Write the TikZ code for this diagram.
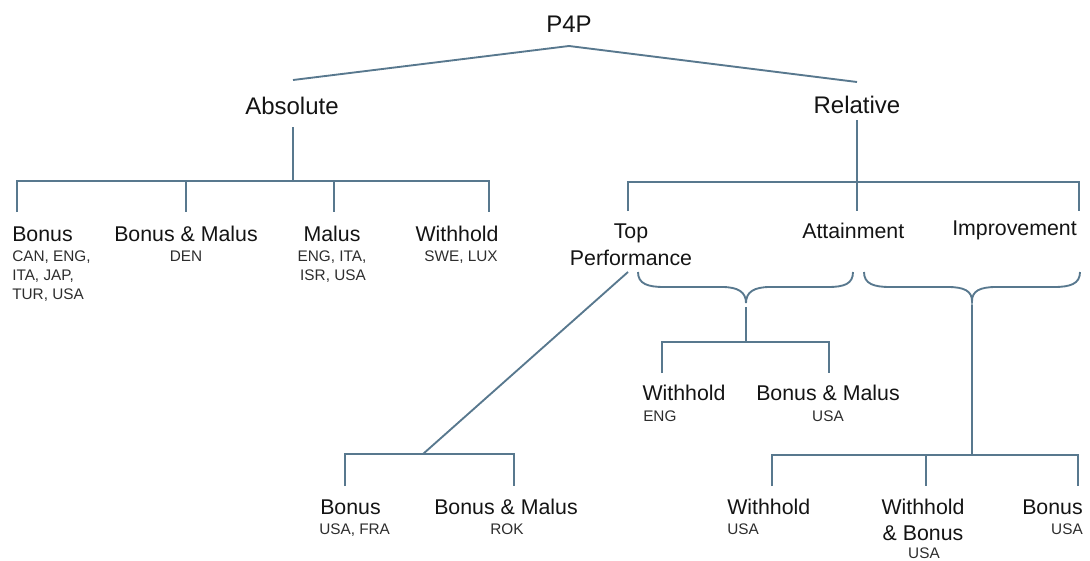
\documentclass[tikz,border=0pt]{standalone}
\usepackage{fontspec}
\setmainfont{Liberation Sans}
\definecolor{linec}{RGB}{88,120,142}
\definecolor{txtmain}{RGB}{20,20,20}
\definecolor{txtsub}{RGB}{45,45,45}
\begin{document}
\begin{tikzpicture}[x=0.75pt,y=-0.75pt,
  big/.style={font=\fontsize{18}{21}\selectfont, inner sep=0pt, text=txtmain},
  mid/.style={font=\fontsize{16}{19}\selectfont, inner sep=0pt, text=txtmain},
  sub/.style={font=\fontsize{11.5}{14}\selectfont, inner sep=0pt, text=txtsub},
  conn/.style={draw=linec, line width=1.4pt, line join=miter},
  brace/.style={draw=linec, line width=1.4pt}]
\useasboundingbox (0,0) rectangle (1090,561);

% ---------- text nodes ----------
\node[big, anchor=base] (p4p) at (569,32) {P4P};
\node[big, anchor=base] (abs) at (292,114) {Absolute};
\node[big, anchor=base] (rel) at (857,113) {Relative};

% Absolute leaves
\node[mid, anchor=base west] (aBon) at (12,241) {Bonus};
\node[sub, anchor=base west] (aBon1) at (12,261) {CAN, ENG,};
\node[sub, anchor=base west] (aBon2) at (12,280) {ITA, JAP,};
\node[sub, anchor=base west] (aBon3) at (12,299) {TUR, USA};
\node[mid, anchor=base] (aBM) at (186,241) {Bonus \& Malus};
\node[sub, anchor=base] (aBM1) at (186,261) {DEN};
\node[mid, anchor=base] (aMal) at (332,241) {Malus};
\node[sub, anchor=base] (aMal1) at (332,261) {ENG, ITA,};
\node[sub, anchor=base] (aMal2) at (333,280) {ISR, USA};
\node[mid, anchor=base] (aWit) at (457,241) {Withhold};
\node[sub, anchor=base] (aWit1) at (461,261) {SWE, LUX};

% Relative children
\node[mid, anchor=base] (top1) at (631,238) {Top};
\node[mid, anchor=base] (top2) at (631,265) {Performance};
\node[mid, anchor=base west] (att) at (802,238) {Attainment};
\node[mid, anchor=base east] (imp) at (1077,235) {Improvement};

% Under attainment brace
\node[mid, anchor=base] (bWit) at (684,400) {Withhold};
\node[sub, anchor=base west] (bWit1) at (643,421) {ENG};
\node[mid, anchor=base] (bBM) at (828,400) {Bonus \& Malus};
\node[sub, anchor=base] (bBM1) at (828,421) {USA};

% Under top performance
\node[mid, anchor=base west] (cBon) at (320,514) {Bonus};
\node[sub, anchor=base west] (cBon1) at (319,534) {USA, FRA};
\node[mid, anchor=base] (cBM) at (506,514) {Bonus \& Malus};
\node[sub, anchor=base] (cBM1) at (507,534) {ROK};

% Under improvement brace
\node[mid, anchor=base west] (dWit) at (727,514) {Withhold};
\node[sub, anchor=base west] (dWit1) at (727,534) {USA};
\node[mid, anchor=base] (dWB1) at (923,514) {Withhold};
\node[mid, anchor=base] (dWB2) at (923,540) {\& Bonus};
\node[sub, anchor=base] (dWB3) at (924,558) {USA};
\node[mid, anchor=base east] (dBon) at (1083,514) {Bonus};
\node[sub, anchor=base east] (dBon1) at (1083,534) {USA};

% ---------- connector points ----------
\coordinate (apex) at (569,46);
\coordinate (absT) at (293,80);
\coordinate (relT) at (857,82);

\coordinate (absB) at (293,127);
\coordinate (absJ) at (293,181);
\coordinate (aL) at (17,181);  \coordinate (aLb) at (17,212);
\coordinate (aB2) at (186,181); \coordinate (aB2b) at (186,212);
\coordinate (aB3) at (334,181); \coordinate (aB3b) at (334,212);
\coordinate (aR) at (489,181);  \coordinate (aRb) at (489,212);

\coordinate (relB) at (857,120);
\coordinate (relJ) at (857,182);
\coordinate (relJb) at (857,211);
\coordinate (rL) at (628,182); \coordinate (rLb) at (628,211);
\coordinate (rR) at (1079,182); \coordinate (rRb) at (1079,211);

% braces
\coordinate (br1tip) at (746,303);
\coordinate (br2tip) at (972,301);

% attainment subtree
\coordinate (s1a) at (746,307);
\coordinate (s1j) at (746,342);
\coordinate (s1L) at (662,342); \coordinate (s1Lb) at (662,373);
\coordinate (s1R) at (829,342); \coordinate (s1Rb) at (829,373);

% top performance subtree
\coordinate (tpS) at (628,272);
\coordinate (tpJ) at (423,454);
\coordinate (tpL) at (345,454); \coordinate (tpLb) at (345,486);
\coordinate (tpR) at (514,454); \coordinate (tpRb) at (514,486);

% improvement subtree
\coordinate (s2a) at (972,305);
\coordinate (s2j) at (972,455);
\coordinate (s2L) at (772,455); \coordinate (s2Lb) at (772,486);
\coordinate (s2M) at (926,455); \coordinate (s2Mb) at (926,486);
\coordinate (s2R) at (1078,455); \coordinate (s2Rb) at (1078,486);

% ---------- connectors ----------
\draw[conn] (absT) -- (apex) -- (relT);

\draw[conn] (absB) -- (absJ);
\draw[conn] (aLb) -- (aL) -- (aR) -- (aRb);
\draw[conn] (aB2) -- (aB2b);
\draw[conn] (aB3) -- (aB3b);

\draw[conn] (relB) -- (relJb);
\draw[conn] (rLb) -- (rL) -- (rR) -- (rRb);

\draw[brace] (638,272) .. controls (638,284) and (648,287) .. (664,287)
  -- (722,287) .. controls (738,287) and (746,292) .. (br1tip)
  .. controls (746,292) and (754,287) .. (770,287)
  -- (828,287) .. controls (844,287) and (853,284) .. (853,272);
\draw[brace] (864,272) .. controls (864,284) and (874,287) .. (890,287)
  -- (948,287) .. controls (964,287) and (972,291) .. (br2tip)
  .. controls (972,291) and (980,287) .. (996,287)
  -- (1054,287) .. controls (1070,287) and (1080,284) .. (1080,272);

\draw[conn] (s1a) -- (s1j);
\draw[conn] (s1Lb) -- (s1L) -- (s1R) -- (s1Rb);

\draw[conn] (tpS) -- (tpJ);
\draw[conn] (tpLb) -- (tpL) -- (tpR) -- (tpRb);

\draw[conn] (s2a) -- (s2j);
\draw[conn] (s2Lb) -- (s2L) -- (s2R) -- (s2Rb);
\draw[conn] (s2M) -- (s2Mb);
\end{tikzpicture}
\end{document}
